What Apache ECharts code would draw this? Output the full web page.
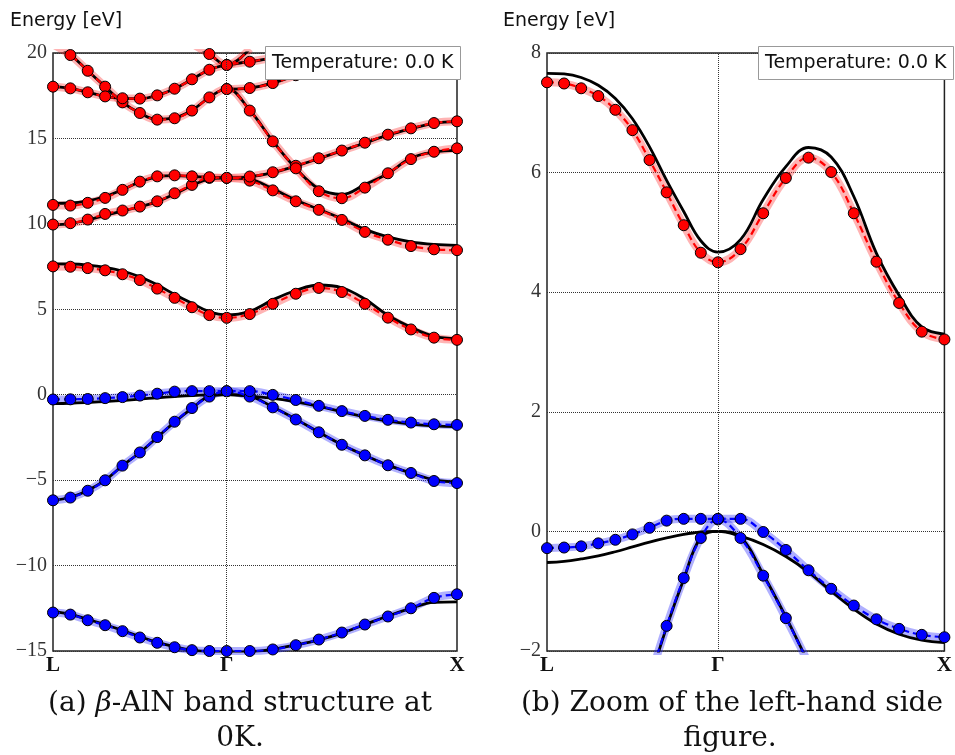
<!DOCTYPE html>
<html>
<head>
<meta charset="utf-8">
<script src="https://cdn.jsdelivr.net/npm/echarts@6/dist/echarts.min.js"></script>
<style>
  html, body { margin: 0; padding: 0; background: #fff; }
  #chart { width: 955px; height: 755px; }
</style>
</head>
<body>
<div id="chart"></div>
<script>
// k-path L -> Gamma -> X, 10 steps on each leg
const kpts = [0, 0.043, 0.086, 0.129, 0.172, 0.215, 0.258, 0.301, 0.344, 0.387, 0.43,
              0.487, 0.544, 0.601, 0.658, 0.715, 0.772, 0.829, 0.886, 0.943, 1];
const kGamma = 0.43;
const kTicks = [0, 0.43, 1];
const kNames = ['L', 'Γ', 'X'];

// valence bands: fitted (blue dots) and reference (black)
const v1Fit = [-12.75, -12.87, -13.2, -13.49, -13.84, -14.21, -14.52, -14.78, -14.95, -15.0, -15.0,
               -15.0, -14.91, -14.66, -14.33, -13.92, -13.45, -12.98, -12.5, -11.89, -11.68];
const v1Ref = [-12.7, -12.85, -13.15, -13.45, -13.8, -14.15, -14.5, -14.75, -14.95, -15.05, -15.1,
               -15.05, -14.9, -14.65, -14.35, -13.95, -13.45, -12.95, -12.5, -12.15, -12.12];
const v2Fit = [-6.18, -6.02, -5.62, -5.01, -4.15, -3.38, -2.48, -1.58, -0.78, -0.11, 0.2,
               -0.11, -0.74, -1.45, -2.2, -2.93, -3.55, -4.13, -4.58, -5.05, -5.17];
const v2Ref = [-6.18, -6.0, -5.6, -5.0, -4.15, -3.38, -2.5, -1.6, -0.8, -0.1, 0,
               -0.1, -0.72, -1.43, -2.2, -2.93, -3.55, -4.12, -4.58, -4.98, -5.1];
const v3Fit = [-0.28, -0.27, -0.25, -0.2, -0.14, -0.05, 0.06, 0.18, 0.21, 0.21, 0.21,
               0.21, -0.01, -0.31, -0.65, -0.96, -1.24, -1.47, -1.63, -1.73, -1.77];
const v3Ref = [-0.52, -0.5, -0.46, -0.41, -0.34, -0.26, -0.18, -0.11, -0.05, -0.01, 0,
               -0.08, -0.22, -0.42, -0.68, -1.0, -1.3, -1.55, -1.72, -1.82, -1.86];

// conduction bands: fitted (red dots) and reference (black)
const c1Fit = [7.51, 7.49, 7.41, 7.28, 7.05, 6.71, 6.21, 5.67, 5.12, 4.66, 4.5,
               4.72, 5.32, 5.91, 6.25, 6.01, 5.32, 4.51, 3.82, 3.34, 3.21];
const c1Ref = [7.66, 7.65, 7.59, 7.46, 7.24, 6.9, 6.43, 5.87, 5.35, 4.86, 4.67,
               4.88, 5.55, 6.1, 6.42, 6.26, 5.6, 4.65, 3.95, 3.42, 3.3];
const c2Fit = [9.96, 10.04, 10.25, 10.58, 10.78, 11.01, 11.32, 11.79, 12.28, 12.69, 12.69,
               12.53, 11.96, 11.32, 10.82, 10.23, 9.53, 9.07, 8.7, 8.51, 8.46];
const c2Ref = [9.96, 10.02, 10.22, 10.5, 10.75, 11.0, 11.3, 11.75, 12.25, 12.62, 12.69,
               12.6, 12.05, 11.4, 10.85, 10.3, 9.68, 9.24, 8.95, 8.8, 8.74];
const c3Fit = [11.11, 11.07, 11.23, 11.52, 11.99, 12.47, 12.78, 12.84, 12.78, 12.73, 12.69,
               12.77, 13.02, 13.4, 13.84, 14.29, 14.75, 15.22, 15.59, 15.9, 16.0];
const c3Ref = [11.2, 11.22, 11.35, 11.6, 12.0, 12.45, 12.75, 12.82, 12.78, 12.72, 12.69,
               12.75, 13.0, 13.38, 13.82, 14.28, 14.73, 15.2, 15.57, 15.88, 15.98];
const c4Fit = [20.5, 19.88, 18.96, 18.03, 17.11, 16.49, 16.1, 16.18, 16.63, 17.4, 17.89,
               16.63, 14.83, 13.25, 11.91, 11.5, 12.12, 12.96, 13.79, 14.22, 14.42];
const c4Ref = [20.6, 19.9, 18.96, 18.03, 17.11, 16.49, 16.12, 16.2, 16.65, 17.4, 17.9,
               16.65, 14.85, 13.25, 12.05, 11.72, 12.3, 12.95, 13.85, 14.2, 14.3];
const c5Fit = [18.03, 17.93, 17.7, 17.46, 17.35, 17.33, 17.52, 17.91, 18.46, 19.02, 19.3,
               19.49, 19.72, 19.95, null, null, null, null, null, null, null];
const c6Fit = [null, null, null, null, null, null, null, null, 20.55, 19.94, 19.3,
               20.25, null, null, null, null, null, null, null, null, null];
const c7Fit = [null, null, null, null, null, null, null, null, null, null, 17.89,
               17.95, 18.24, 18.7, null, null, null, null, null, null, null];

const minus = v => String(v).replace('-', '\u2212');
const pairs = vals => kpts.map((k, i) => [k, vals[i]]);

function bandSeries(grid, fit, ref, dark, halo, withGammaLine) {
  const list = [
    {
      type: 'line', xAxisIndex: grid, yAxisIndex: grid, data: pairs(fit),
      smooth: 0.4, showSymbol: false, z: 1,
      lineStyle: { color: halo, width: 8 }
    },
    {
      type: 'line', xAxisIndex: grid, yAxisIndex: grid, data: pairs(ref),
      smooth: 0.4, showSymbol: false, z: 2,
      lineStyle: { color: '#000', width: 2.8 }
    },
    {
      type: 'line', xAxisIndex: grid, yAxisIndex: grid, data: pairs(fit),
      smooth: 0.4, symbol: 'circle', symbolSize: 11, z: 3,
      lineStyle: { color: dark, width: 2.2, type: [7, 4] },
      itemStyle: { color: dark, borderColor: '#000', borderWidth: 1 }
    }
  ];
  if (withGammaLine) {
    list[0].markLine = {
      silent: true, symbol: 'none', label: { show: false },
      lineStyle: { color: '#333', type: 'dotted', width: 1 },
      data: [{ xAxis: kGamma }]
    };
  }
  return list;
}

const RED = '#ff0000', RED_HALO = 'rgba(255,40,40,0.35)';
const BLUE = '#0000ff', BLUE_HALO = 'rgba(30,30,255,0.35)';

const series = [].concat(
  bandSeries(0, v1Fit, v1Ref, BLUE, BLUE_HALO, true),
  bandSeries(0, v2Fit, v2Ref, BLUE, BLUE_HALO),
  bandSeries(0, v3Fit, v3Ref, BLUE, BLUE_HALO),
  bandSeries(0, c1Fit, c1Ref, RED, RED_HALO),
  bandSeries(0, c2Fit, c2Ref, RED, RED_HALO),
  bandSeries(0, c3Fit, c3Ref, RED, RED_HALO),
  bandSeries(0, c4Fit, c4Ref, RED, RED_HALO),
  bandSeries(0, c5Fit, c5Fit, RED, RED_HALO),
  bandSeries(0, c6Fit, c6Fit, RED, RED_HALO),
  bandSeries(0, c7Fit, c7Fit, RED, RED_HALO),
  bandSeries(1, c1Fit, c1Ref, RED, RED_HALO, true),
  bandSeries(1, v2Fit, v2Ref, BLUE, BLUE_HALO),
  bandSeries(1, v3Fit, v3Ref, BLUE, BLUE_HALO)
);

function xAxisFor(grid) {
  return {
    type: 'value', gridIndex: grid, min: 0, max: 1,
    axisLine: { show: false }, axisTick: { show: false, customValues: kTicks },
    splitLine: { show: false },
    axisLabel: {
      customValues: kTicks, margin: 4,
      fontFamily: 'Liberation Serif', fontWeight: 'bold', fontSize: 21, color: '#111',
      formatter: v => kNames[kTicks.findIndex(t => Math.abs(t - v) < 1e-6)] || ''
    }
  };
}

function yAxisFor(grid, min, max, step) {
  return {
    type: 'value', gridIndex: grid, min: min, max: max, interval: step,
    axisLine: { show: false }, axisTick: { show: false },
    splitLine: { show: true, lineStyle: { color: '#333', type: 'dotted', width: 1 } },
    axisLabel: {
      margin: 6, fontFamily: 'Liberation Serif', fontSize: 20, color: '#333',
      formatter: minus
    }
  };
}

const boxStyle = {
  backgroundColor: '#fff', borderColor: '#999', borderWidth: 1, padding: [6, 7],
  textStyle: { fontFamily: 'DejaVu Sans', fontSize: 19, fontWeight: 'normal', color: '#111', lineHeight: 22 }
};

const option = {
  animation: false,
  backgroundColor: '#fff',
  title: [
    Object.assign({ text: 'Temperature: 0.0 K', left: 265, top: 46 }, boxStyle),
    Object.assign({ text: 'Temperature: 0.0 K', left: 758, top: 46 }, boxStyle)
  ],
  grid: [
    { left: 53, top: 53, width: 404, height: 598, show: true, borderColor: '#222', borderWidth: 1.5 },
    { left: 547, top: 53, width: 403, height: 598, show: true, borderColor: '#222', borderWidth: 1.5 }
  ],
  xAxis: [xAxisFor(0), xAxisFor(1)],
  yAxis: [yAxisFor(0, -15, 20, 5), yAxisFor(1, -2, 8, 2)],
  graphic: [
    { type: 'text', left: 10, top: 12, style: { text: 'Energy [eV]', font: '19px "DejaVu Sans"', fill: '#111' } },
    { type: 'text', left: 503, top: 12, style: { text: 'Energy [eV]', font: '19px "DejaVu Sans"', fill: '#111' } },
    {
      type: 'text', x: 240, y: 704,
      style: {
        text: '(a) {it|β}-AlN band structure at', align: 'center', verticalAlign: 'middle',
        font: '28px "DejaVu Serif"', fill: '#111',
        rich: { it: { fontStyle: 'italic', fontFamily: 'DejaVu Serif', fontSize: 28 } }
      }
    },
    { type: 'text', x: 240, y: 739, style: { text: '0K.', align: 'center', verticalAlign: 'middle', font: '28px "DejaVu Serif"', fill: '#111' } },
    { type: 'text', x: 732, y: 704, style: { text: '(b) Zoom of the left-hand side', align: 'center', verticalAlign: 'middle', font: '28px "DejaVu Serif"', fill: '#111' } },
    { type: 'text', x: 730, y: 739, style: { text: 'figure.', align: 'center', verticalAlign: 'middle', font: '28px "DejaVu Serif"', fill: '#111' } }
  ],
  series: series
};

const chart = echarts.init(document.getElementById('chart'));
chart.setOption(option);
</script>
</body>
</html>
